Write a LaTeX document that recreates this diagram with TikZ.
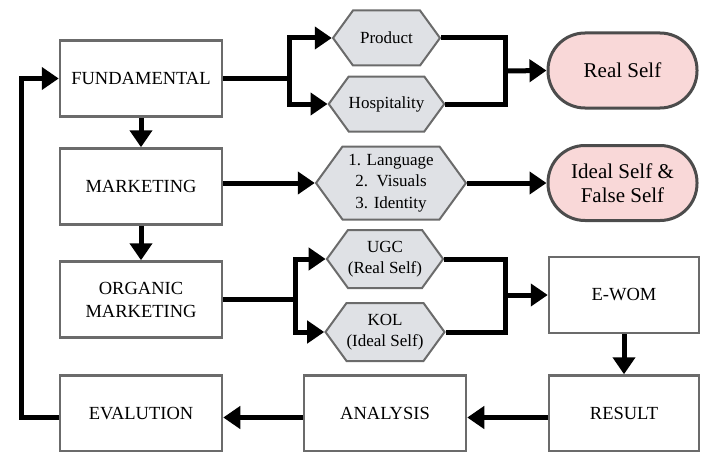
\documentclass[tikz,border=0pt]{standalone}
\usepackage{fontspec}
\setmainfont{Liberation Serif}
\usetikzlibrary{arrows.meta,shapes.symbols}
\definecolor{boxline}{HTML}{6B6B6B}
\definecolor{hexfill}{HTML}{DFE1E5}
\definecolor{pillfill}{HTML}{F9D8D8}
\begin{document}
\begin{tikzpicture}[x=1pt,y=-1pt,
  stage/.style={draw=boxline,line width=2.5pt,fill=white,minimum width=162pt,minimum height=76pt,
    align=center,font=\rmfamily\fontsize{18.5}{23}\selectfont,inner sep=0pt},
  hexa/.style={shape=signal,signal to=east and west,signal pointer angle=108,draw=boxline,line width=2pt,
    fill=hexfill,align=center,font=\rmfamily\fontsize{17}{21.5}\selectfont,inner sep=0pt},
  pill/.style={draw=black!70,line width=3pt,fill=pillfill,rounded corners=37pt,minimum width=149pt,
    minimum height=75pt,align=center,font=\rmfamily\fontsize{21}{23.5}\selectfont,inner sep=0pt},
  line/.style={line width=5pt},
  arrow/.style={line width=5pt,-{Triangle[length=17pt,width=22pt]}}]
\useasboundingbox (0,0) rectangle (701,452);

\node[stage] (fund) at (141,78.5) {FUNDAMENTAL};
\node[stage] (mkt) at (141,186.5) {MARKETING};
\node[stage] (org) at (141,299.5) {ORGANIC\\MARKETING};
\node[stage] (eval) at (141,413.5) {EVALUTION};
\node[stage] (ana) at (385,413.5) {ANALYSIS};
\node[stage,minimum width=150pt] (res) at (624,413.5) {RESULT};
\node[stage,minimum width=150pt] (ewom) at (624,295) {E-WOM};

\node[hexa,minimum width=107pt,minimum height=55pt] (prod) at (386.5,38) {Product};
\node[hexa,minimum width=107pt,minimum height=55pt] (hosp) at (386.5,104) {Hospitality};
\node[hexa,minimum width=150pt,minimum height=73pt] (lang) at (391,183) {1. Language\\2.\ \ Visuals\\3. Identity};
\node[hexa,minimum width=115pt,minimum height=58pt] (ugc) at (385,259) {UGC\\(Real Self)};
\node[hexa,minimum width=115pt,minimum height=58pt] (kol) at (385,332) {KOL\\(Ideal Self)};

\node[pill] (real) at (622.5,70.5) {Real Self};
\node[pill] (ideal) at (622.5,183) {Ideal Self \&\\False Self};

\coordinate (j1) at (289,78.5);
\coordinate (j2) at (505,71);
\coordinate (j3) at (295,299.5);
\coordinate (j4) at (505,295);
\coordinate (loop) at (21,78.5);

\path[draw,line] (fund.east) -- (j1);
\path[draw,arrow] (j1) |- (prod.west);
\path[draw,arrow] (j1) |- (hosp.west);
\path[draw,line] (prod.east) -| (j2);
\path[draw,line] (hosp.east) -| (j2);
\path[draw,arrow] (j2) -- (real.west);
\path[draw,arrow] (fund.south) -- (mkt.north);
\path[draw,arrow] (mkt.east |- lang.west) -- (lang.west);
\path[draw,arrow] (lang.east) -- (ideal.west);
\path[draw,arrow] (mkt.south) -- (org.north);
\path[draw,line] (org.east) -- (j3);
\path[draw,arrow] (j3) |- (ugc.west);
\path[draw,arrow] (j3) |- (kol.west);
\path[draw,line] (ugc.east) -| (j4);
\path[draw,line] (kol.east) -| (j4);
\path[draw,arrow] (j4) -- (ewom.west);
\path[draw,arrow] (ewom.south) -- (res.north);
\path[draw,arrow] ([yshift=-4pt]res.west) -- ([yshift=-4pt]ana.east);
\path[draw,arrow] ([yshift=-4pt]ana.west) -- ([yshift=-4pt]eval.east);
\path[draw,arrow] ([yshift=-4pt]eval.west) -| (loop) -- (fund.west);
\end{tikzpicture}
\end{document}
